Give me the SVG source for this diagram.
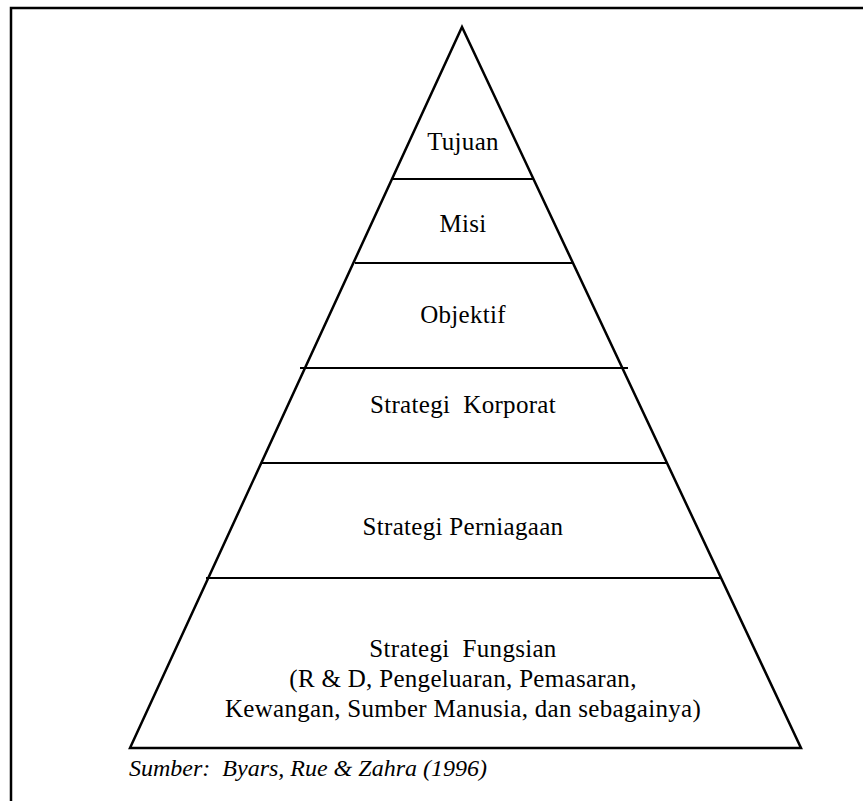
<svg xmlns="http://www.w3.org/2000/svg" width="863" height="801" viewBox="0 0 863 801">
  <style>
    .frame { stroke: #000; stroke-width: 2.5; fill: none; }
    .edge { stroke: #000; stroke-width: 2.5; fill: none; stroke-linejoin: miter; }
    .tier { stroke: #000; stroke-width: 2; }
    .lbl { font-family: "Liberation Serif", "Times New Roman", serif; font-size: 25px; letter-spacing: 0.3px; fill: #000; text-anchor: middle; }
    .src { font-family: "Liberation Serif", "Times New Roman", serif; font-size: 24px; font-style: italic; fill: #000; }
  </style>
  <rect width="863" height="801" fill="#fff"/>
  <!-- open frame: top and left rules only -->
  <path class="frame" d="M11 801 V8 H863"/>

  <g id="pyramid">
    <path class="edge" d="M130 748 L462 27 L801 748 Z"/>
  </g>

  <g id="connectors">
    <line class="tier" x1="393" y1="179" x2="533" y2="179"/>
    <line class="tier" x1="355" y1="263" x2="572" y2="263"/>
    <line class="tier" x1="300" y1="368" x2="628" y2="368"/>
    <line class="tier" x1="261" y1="463" x2="667" y2="463"/>
    <line class="tier" x1="206" y1="578" x2="722" y2="578"/>
  </g>

  <g id="tujuan"><text class="lbl" x="463" y="150">Tujuan</text></g>
  <g id="misi"><text class="lbl" x="463" y="232">Misi</text></g>
  <g id="objektif"><text class="lbl" x="463" y="323">Objektif</text></g>
  <g id="strategi-korporat"><text class="lbl" x="463" y="413" xml:space="preserve">Strategi  Korporat</text></g>
  <g id="strategi-perniagaan"><text class="lbl" x="463" y="535">Strategi Perniagaan</text></g>
  <g id="strategi-fungsian">
    <text class="lbl" x="463" y="657" xml:space="preserve">Strategi  Fungsian</text>
    <text class="lbl" x="463" y="687">(R &amp; D, Pengeluaran, Pemasaran,</text>
    <text class="lbl" x="463" y="717">Kewangan, Sumber Manusia, dan sebagainya)</text>
  </g>

  <g id="source"><text class="src" x="129" y="776" xml:space="preserve">Sumber:  Byars, Rue &amp; Zahra (1996)</text></g>
</svg>
